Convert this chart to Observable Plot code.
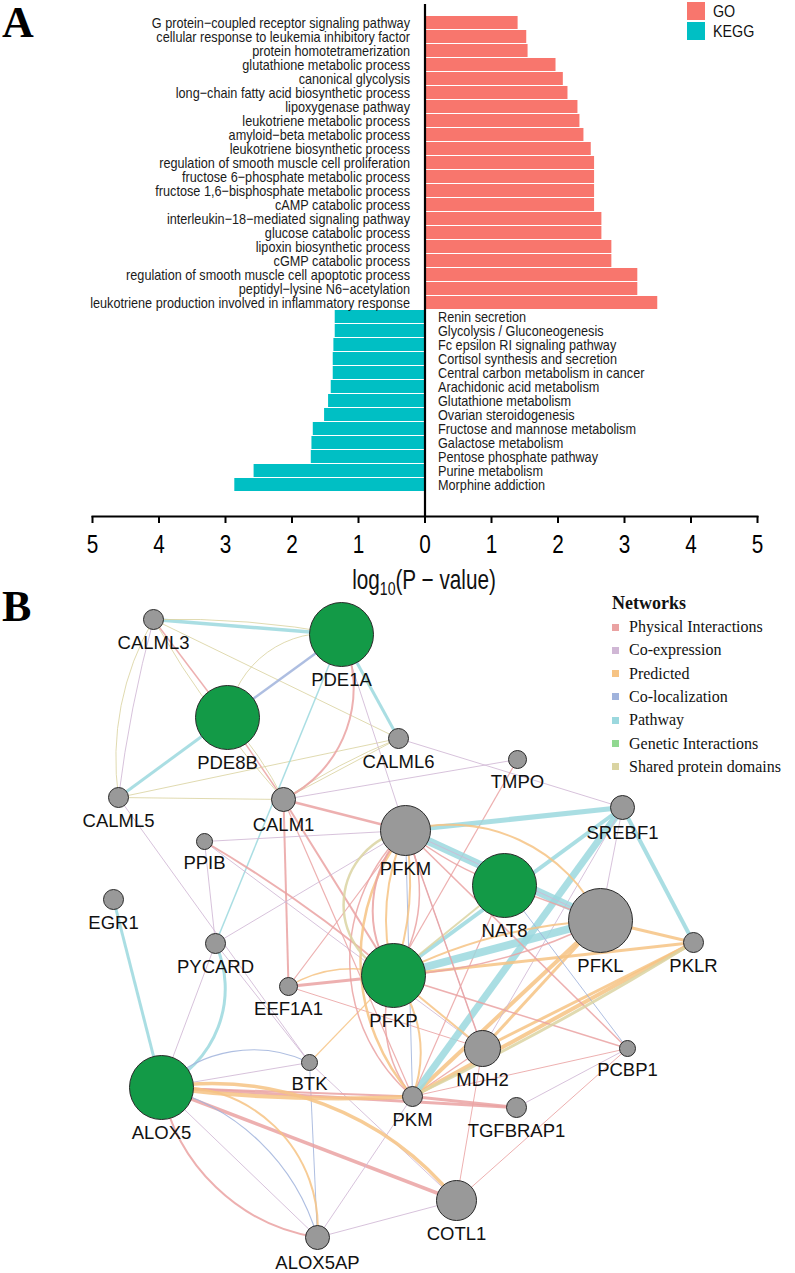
<!DOCTYPE html>
<html><head><meta charset="utf-8">
<script src="https://cdn.jsdelivr.net/npm/d3@7"></script>
<script src="https://cdn.jsdelivr.net/npm/@observablehq/plot@0.6"></script>
<style>
body{margin:0;background:#fff;}
#wrap{position:relative;width:795px;height:1273px;overflow:hidden;background:#fff;}
.abs{position:absolute;white-space:nowrap;}
#wrap svg{position:absolute;left:0;}
</style></head><body><div id="wrap"></div>
<script>
// ---------- Panel A data ----------
const goTerms = [
  "G protein−coupled receptor signaling pathway",
  "cellular response to leukemia inhibitory factor",
  "protein homotetramerization",
  "glutathione metabolic process",
  "canonical glycolysis",
  "long−chain fatty acid biosynthetic process",
  "lipoxygenase pathway",
  "leukotriene metabolic process",
  "amyloid−beta metabolic process",
  "leukotriene biosynthetic process",
  "regulation of smooth muscle cell proliferation",
  "fructose 6−phosphate metabolic process",
  "fructose 1,6−bisphosphate metabolic process",
  "cAMP catabolic process",
  "interleukin−18−mediated signaling pathway",
  "glucose catabolic process",
  "lipoxin biosynthetic process",
  "cGMP catabolic process",
  "regulation of smooth muscle cell apoptotic process",
  "peptidyl−lysine N6−acetylation",
  "leukotriene production involved in inflammatory response"
];
const goValues = [1.40,1.53,1.55,1.97,2.08,2.15,2.30,2.33,2.39,2.50,2.55,2.55,2.55,2.55,2.66,2.66,2.81,2.81,3.20,3.20,3.50];
const keggTerms = [
  "Renin secretion",
  "Glycolysis / Gluconeogenesis",
  "Fc epsilon RI signaling pathway",
  "Cortisol synthesis and secretion",
  "Central carbon metabolism in cancer",
  "Arachidonic acid metabolism",
  "Glutathione metabolism",
  "Ovarian steroidogenesis",
  "Fructose and mannose metabolism",
  "Galactose metabolism",
  "Pentose phosphate pathway",
  "Purine metabolism",
  "Morphine addiction"
];
const keggValues = [1.35,1.35,1.37,1.38,1.38,1.41,1.45,1.51,1.68,1.70,1.71,2.57,2.86];
const axisTicks = [-5,-4,-3,-2,-1,0,1,2,3,4,5];
const groups = ["GO","KEGG"];
const groupColors = ["#F8766D","#00BFC4"];

// ---------- Panel B data ----------
const nodeIds = ["CALML3","PDE1A","PDE8B","CALML6","TMPO","CALML5","CALM1","PPIB","PFKM","SREBF1","EGR1","NAT8","PFKL","PKLR","PYCARD","EEF1A1","PFKP","BTK","ALOX5","MDH2","PCBP1","PKM","TGFBRAP1","COTL1","ALOX5AP"];
const nodeX = [153,341,227,398,517,118,283,204,405,622,113,504,600,693,215,288,393,309,161,482,627,412,516,456,317];
const nodeY = [619,634,717,738,759,797,799,841,830,807,899,885,920,942,943,986,975,1062,1087,1048,1048,1096,1107,1200,1237];
const nodeR = [10,32,32,10,9,10,12,8,25,12,10,32,32,10,10,9,32,8,32,18,8,10,10,20,12];
const queryGenes = ["PDE1A","PDE8B","NAT8","PFKP","ALOX5"];
const networkKeys = ["phys","coexp","pred","coloc","path","gen","shared"];
const networkLabels = ["Physical Interactions","Co-expression","Predicted","Co-localization","Pathway","Genetic Interactions","Shared protein domains"];
const networkColors = ["#EAA2A2","#D0B7D5","#F6C384","#A0B3DC","#9BD8DE","#90D890","#DAD4A2"];
// [source, target, network, weight, bend]
const edges = [
 ["CALML3","PDE1A","path",3.5,0],
 ["CALML3","PDE1A","shared",1,6],
 ["CALML3","PDE8B","phys",1.5,0],
 ["CALML3","CALM1","shared",1,-6],
 ["CALML3","CALML6","shared",1,0],
 ["CALML3","CALML5","shared",1,-19],
 ["CALML3","CALML5","coexp",1,-4],
 ["PDE8B","PDE1A","coloc",2.5,0],
 ["PDE8B","PDE1A","shared",1,45],
 ["PDE8B","CALML5","path",3,0],
 ["PDE8B","CALM1","phys",1.5,0],
 ["PDE8B","CALM1","shared",1,8],
 ["CALML5","CALM1","shared",1,0],
 ["CALML5","CALML6","shared",1,0],
 ["CALML5","BTK","coexp",1,0],
 ["CALM1","PDE1A","phys",2,-45],
 ["PDE1A","PYCARD","path",1.5,0],
 ["CALM1","CALML6","shared",1,0],
 ["CALM1","CALML6","shared",1,6],
 ["CALM1","TMPO","coexp",1,0],
 ["CALM1","PFKM","phys",2.5,0],
 ["CALM1","PFKP","phys",2,0],
 ["CALM1","EEF1A1","phys",2,0],
 ["CALM1","PKM","phys",1.2,0],
 ["PDE1A","CALML6","path",3,0],
 ["PDE1A","PFKM","coexp",1,0],
 ["CALML6","SREBF1","coexp",1,0],
 ["TMPO","PFKP","phys",1.2,0],
 ["PPIB","PFKM","coexp",1,0],
 ["PPIB","PFKP","phys",2,5],
 ["PPIB","PYCARD","coexp",1,0],
 ["PPIB","MDH2","coexp",1,0],
 ["PYCARD","PFKM","coexp",1,0],
 ["PYCARD","BTK","coexp",1,0],
 ["PYCARD","ALOX5","path",3,45],
 ["PYCARD","ALOX5","coexp",1,0],
 ["EGR1","ALOX5","path",3,0],
 ["EEF1A1","PFKP","phys",3,0],
 ["EEF1A1","PFKP","pred",1.5,25],
 ["EEF1A1","PFKM","phys",1.2,0],
 ["EEF1A1","MDH2","phys",1,0],
 ["BTK","PFKP","pred",1.2,0],
 ["BTK","ALOX5AP","coloc",1,0],
 ["BTK","COTL1","coexp",1,0],
 ["ALOX5","BTK","coexp",1,0],
 ["ALOX5","BTK","coloc",1.2,35],
 ["ALOX5","PKM","pred",4,-5],
 ["ALOX5","PKM","phys",2,0],
 ["ALOX5","TGFBRAP1","phys",3,0],
 ["ALOX5","COTL1","phys",3.5,0],
 ["ALOX5","COTL1","pred",3.5,30],
 ["ALOX5","ALOX5AP","phys",2,-35],
 ["ALOX5","ALOX5AP","coexp",1,0],
 ["ALOX5","ALOX5AP","coloc",1.2,30],
 ["ALOX5","ALOX5AP","pred",2,50],
 ["ALOX5AP","PKM","coexp",1,0],
 ["ALOX5AP","COTL1","coexp",1,0],
 ["COTL1","MDH2","phys",1,0],
 ["COTL1","PCBP1","phys",1,0],
 ["PKM","TGFBRAP1","phys",3,0],
 ["TGFBRAP1","PCBP1","coexp",1,0],
 ["PKM","MDH2","phys",1.5,0],
 ["PKM","PFKP","phys",1.5,30],
 ["PKM","PFKP","pred",2,-30],
 ["PFKM","PKM","pred",2.5,-40],
 ["PFKM","PKM","phys",1.5,-48],
 ["PFKM","PKM","coloc",1,0],
 ["PKM","PFKL","pred",4,0],
 ["PKM","PKLR","pred",4,0],
 ["PKM","PKLR","shared",3,-3],
 ["PKM","SREBF1","path",7,0],
 ["PKM","NAT8","phys",1.2,0],
 ["PKM","PCBP1","phys",1,0],
 ["MDH2","PFKL","pred",3,0],
 ["MDH2","PKLR","pred",3,0],
 ["MDH2","PFKM","coexp",1,0],
 ["MDH2","SREBF1","coexp",1,0],
 ["PFKP","PFKL","path",8,0],
 ["PFKP","SREBF1","path",4,0],
 ["PFKP","PKLR","pred",3,0],
 ["PFKP","PFKL","pred",2,12],
 ["PFKP","PFKL","phys",1.5,-12],
 ["PFKP","PCBP1","phys",1.5,0],
 ["PFKP","MDH2","pred",2,0],
 ["PFKP","NAT8","shared",2,0],
 ["PFKM","PFKP","shared",2.5,-75],
 ["PFKM","PFKP","phys",2,-40],
 ["PFKM","PFKP","phys",1.5,30],
 ["PFKM","PFKP","pred",2,-20],
 ["PFKM","PFKP","pred",2,15],
 ["PFKM","PFKL","pred",2,40],
 ["PFKM","PFKL","path",8,0],
 ["PFKM","SREBF1","path",5,0],
 ["PFKM","PCBP1","phys",1.5,0],
 ["PFKM","MDH2","phys",1.5,0],
 ["PFKM","NAT8","phys",1.5,-10],
 ["NAT8","PFKL","phys",1.5,0],
 ["NAT8","PCBP1","coloc",1,0],
 ["PFKL","PKLR","pred",3,0],
 ["SREBF1","PKLR","path",4,0],
 ["SREBF1","PFKL","coexp",1,0],
 ["PFKL","PFKM","coexp",1,0]
];

const SANS = "'Liberation Sans',Arial,Helvetica,sans-serif";
const SERIF = "'Liberation Serif','Times New Roman',serif";
const wrap = document.getElementById("wrap");

// ---------- Panel A ----------
const groupColor = Object.fromEntries(groups.map((g,i)=>[g,groupColors[i]]));
const barData = goTerms.map((t,i)=>({term:t, value:goValues[i], group:"GO"}))
  .concat(keggTerms.map((t,i)=>({term:t, value:-keggValues[i], group:"KEGG"})));

const plotA = Plot.plot({
  width: 795, height: 600,
  marginTop: 4, marginLeft: 92, marginRight: 38, marginBottom: 84,
  style: {background: "white", color: "black", overflow: "visible"},
  x: {domain: [-5, 5]},
  y: {type: "band", domain: barData.map(d=>d.term), paddingInner: 0.08, paddingOuter: 0.04, insetBottom: 13, axis: null},
  marks: [
    Plot.barX(barData, {x1: 0, x2: "value", y: "term", fill: d=>groupColor[d.group]}),
    Plot.ruleX([0], {strokeWidth: 2.2}),
    Plot.frame({anchor: "bottom", strokeWidth: 2}),
    Plot.text(barData.filter(d=>d.group==="GO"), {x: 0, y: "term", text: "term", textAnchor: "end", dx: -15, fontSize: 15, fontFamily: SANS, fill: "#1a1a1a"}),
    Plot.text(barData.filter(d=>d.group==="KEGG"), {x: 0, y: "term", text: "term", textAnchor: "start", dx: 13, fontSize: 15, fontFamily: SANS, fill: "#1a1a1a"}),
    Plot.axisX({ticks: axisTicks, tickFormat: d=>String(Math.abs(d)), tickSize: 7, tickPadding: 12, fontSize: 25, fontFamily: SANS, strokeWidth: 2, label: null})
  ]
});
plotA.style.top = "0px";
wrap.appendChild(plotA);
// emulate the narrow sans face of the original by condensing glyphs
function condense(svg, selector, f){
  svg.querySelectorAll(selector).forEach(t=>{
    const L = t.getComputedTextLength();
    t.setAttribute("textLength", (L*f).toFixed(2));
    t.setAttribute("lengthAdjust", "spacingAndGlyphs");
  });
}
condense(plotA, 'g[aria-label="text"] text', 0.845);
condense(plotA, 'g[aria-label="x-axis tick label"] text', 0.83);

// ---------- Panel B ----------
const typeColor = Object.fromEntries(networkKeys.map((k,i)=>[k,networkColors[i]]));
const nodes = nodeIds.map((id,i)=>({id, x: nodeX[i], y: nodeY[i], r: nodeR[i], query: queryGenes.includes(id)}));
const byId = new Map(nodes.map(n=>[n.id, n]));
const edgeData = edges.map(([s,t,k,w,b])=>({s: byId.get(s), t: byId.get(t), type: k, w, bend: b}));
const bends = [...new Set(edgeData.map(d=>d.bend))];
const edgeMarks = bends.map(b => Plot.arrow(edgeData.filter(d=>d.bend===b), {
  x1: d=>d.s.x, y1: d=>d.s.y, x2: d=>d.t.x, y2: d=>d.t.y,
  bend: b, headLength: 0, stroke: d=>typeColor[d.type], strokeWidth: "w",
  strokeOpacity: 0.85, strokeLinecap: "butt"
}));

const plotB = Plot.plot({
  width: 795, height: 683,
  marginTop: 0, marginLeft: 0, marginRight: 0, marginBottom: 0,
  style: {background: "transparent", color: "black", overflow: "visible"},
  x: {domain: [0, 795], range: [0, 795], axis: null},
  y: {domain: [590, 1273], range: [0, 683], axis: null},
  r: {type: "linear", domain: [0, 50], range: [0, 50]},
  marks: [
    ...edgeMarks,
    Plot.dot(nodes, {x: "x", y: "y", r: "r", fill: d=>d.query ? "#139a47" : "#999999", stroke: "#2a2a2a", strokeWidth: 1}),
    Plot.text(nodes, {x: "x", y: d=>d.y + d.r + 14, text: "id", fontSize: 18.5, fontFamily: SANS, fill: "#111"})
  ]
});
plotB.style.top = "590px";
wrap.appendChild(plotB);

// ---------- HTML annotations ----------
function addDiv(html, css){ const d=document.createElement("div"); d.className="abs"; d.innerHTML=html; Object.assign(d.style, css); wrap.appendChild(d); return d; }
addDiv("A", {left:"2px", top:"1px", font:`bold 44px ${SERIF}`, lineHeight:"1"});
addDiv("B", {left:"2px", top:"585px", font:`bold 44px ${SERIF}`, lineHeight:"1"});
// axis title
addDiv("log<sub style='font-size:19px;vertical-align:-6px'>10</sub>(P − value)", {left:"274px", width:"300px", textAlign:"center", top:"566px", font:`28px ${SANS}`, lineHeight:"1", color:"#111", transform:"scaleX(0.74)", transformOrigin:"50% 50%"});
// GO/KEGG legend
groups.forEach((g,i)=>{
  addDiv("", {left:"687px", top:(2+i*20)+"px", width:"18px", height:"18px", background:groupColors[i]});
  addDiv(g, {left:"713px", top:(2+i*20)+"px", height:"18px", lineHeight:"18px", font:`17px ${SANS}`, color:"#111", transform:"scaleX(0.84)", transformOrigin:"0 50%"});
});
// Networks legend
addDiv("Networks", {left:"612px", top:"594px", font:`bold 18px ${SERIF}`, lineHeight:"18px", color:"#111"});
networkLabels.forEach((lab,i)=>{
  const cy = 627 + i*23.3;
  addDiv("", {left:"612px", top:(cy-3.5)+"px", width:"7px", height:"7px", background:networkColors[i]});
  addDiv(lab, {left:"629px", top:(cy-9)+"px", height:"18px", lineHeight:"18px", font:`16px ${SERIF}`, color:"#111"});
});
</script></body></html>
